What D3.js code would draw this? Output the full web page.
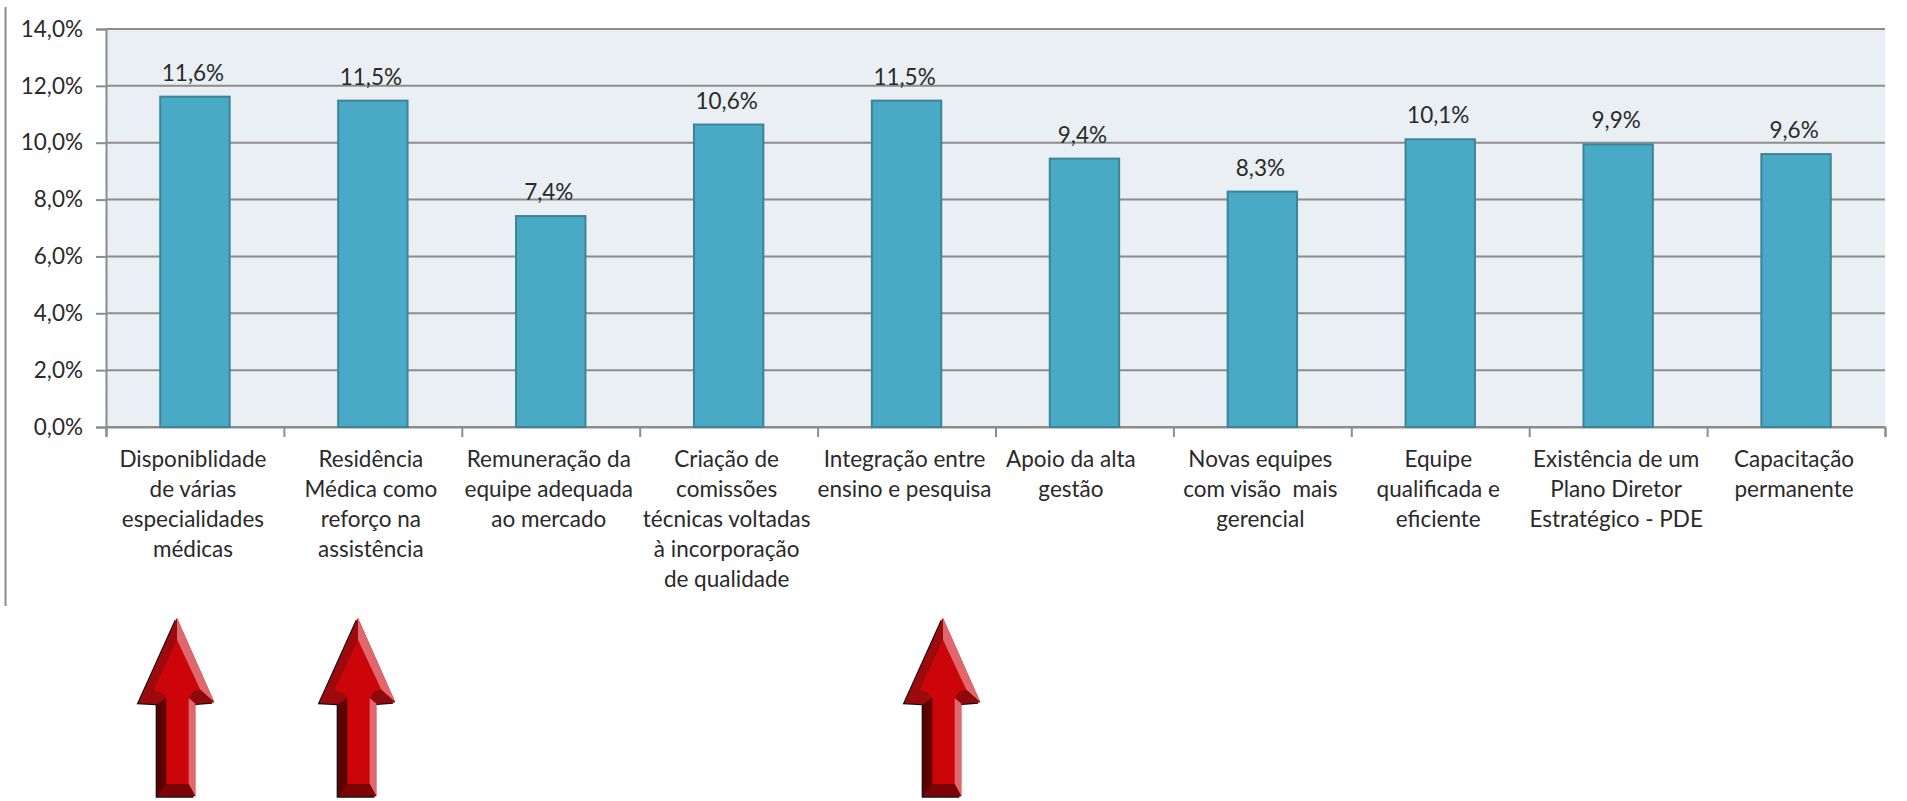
<!DOCTYPE html>
<html>
<head>
<meta charset="utf-8">
<script src="https://d3js.org/d3.v7.min.js"></script>
<style>
  html, body { margin: 0; padding: 0; background: #fff; }
  svg { display: block; }
  text { font-family: Lato, "Open Sans", sans-serif; fill: #2a2a2a; }
</style>
</head>
<body>
<div id="chart-area"></div>
<script>
// values
var categories = [
    ["Disponiblidade", "de várias", "especialidades", "médicas"],
    ["Residência", "Médica como", "reforço na", "assistência"],
    ["Remuneração da", "equipe adequada", "ao mercado"],
    ["Criação de", "comissões", "técnicas voltadas", "à incorporação", "de qualidade"],
    ["Integração entre", "ensino e pesquisa"],
    ["Apoio da alta\u00a0\u00a0\u00a0\u00a0", "gestão\u00a0\u00a0\u00a0\u00a0"],
    ["Novas equipes", "com visão\u00a0 mais", "gerencial"],
    ["Equipe", "qualificada e", "eficiente"],
    ["Existência de um", "Plano Diretor", "Estratégico - PDE"],
    ["Capacitação", "permanente"]
];
var values = [11.62, 11.48, 7.42, 10.64, 11.48, 9.44, 8.28, 10.12, 9.94, 9.6];
var yTicks = [0, 2, 4, 6, 8, 10, 12, 14];

// the three highlighted categories: arrow tip position in the page
var arrowTips = [[177, 618], [358, 618], [943, 618]];

var pct = function(d) { return d.toFixed(1).replace(".", ",") + "%"; };

var width = 1907, height = 801;
var margin = { left: 106, right: 22, top: 29, bottom: 374 };
var plotW = width - margin.left - margin.right,
    plotH = height - margin.top - margin.bottom;
var fontSize = 22.5;
var labelShift = -2; // labels sit a little left of the bar centres

var svg = d3.select("#chart-area")
    .append("svg")
        .attr("width", width)
        .attr("height", height);

// stray frame line left of the chart
svg.append("line")
    .attr("x1", 5.5).attr("x2", 5.5)
    .attr("y1", 7).attr("y2", 606)
    .attr("stroke", "#8c8c8c").attr("stroke-width", 2);

var g = svg.append("g")
    .attr("transform", "translate(" + margin.left + ", " + margin.top + ")");

var x = d3.scaleBand()
    .domain(d3.range(categories.length))
    .range([0, plotW])
    .paddingInner(0.61)
    .paddingOuter(0.305);

var xEdges = d3.scaleLinear().domain([0, categories.length]).range([0, plotW]);

var y = d3.scaleLinear().domain([0, 14]).range([plotH, 0]);

g.append("rect")
    .attr("width", plotW)
    .attr("height", plotH)
    .attr("fill", "#e9eff3");

// y axis and gridlines
var yAxis = d3.axisLeft(y)
    .tickValues(yTicks)
    .tickSize(10)
    .tickPadding(13)
    .tickFormat(pct);
var yG = g.append("g").call(yAxis);
yG.select(".domain").attr("stroke", "#8c8c8c").attr("stroke-width", 2);
yG.selectAll(".tick line").attr("stroke", "#8c8c8c").attr("stroke-width", 2);
yG.selectAll(".tick text").attr("font-size", fontSize);

g.append("g").selectAll("line")
    .data(yTicks)
    .enter().append("line")
        .attr("x1", 0)
        .attr("x2", plotW)
        .attr("y1", function(d) { return y(d); })
        .attr("y2", function(d) { return y(d); })
        .attr("stroke", "#8c8c8c")
        .attr("stroke-width", 2);

// x axis, ticks sit between the categories
var xAxis = d3.axisBottom(xEdges)
    .tickValues(d3.range(categories.length + 1))
    .tickSize(10)
    .tickFormat("");
var xG = g.append("g")
    .attr("transform", "translate(0," + plotH + ")")
    .call(xAxis);
xG.select(".domain").attr("stroke", "#8c8c8c").attr("stroke-width", 2);
xG.selectAll(".tick line").attr("stroke", "#8c8c8c").attr("stroke-width", 2);

// bars
g.selectAll("rect.bar")
    .data(values)
    .enter().append("rect")
        .attr("class", "bar")
        .attr("x", function(d, i) { return x(i); })
        .attr("y", function(d) { return y(d); })
        .attr("width", x.bandwidth())
        .attr("height", function(d) { return plotH - y(d); })
        .attr("fill", "#4aaac5")
        .attr("stroke", "#3b8499")
        .attr("stroke-width", 2);

// value labels
g.selectAll("text.value")
    .data(values)
    .enter().append("text")
        .attr("class", "value")
        .attr("x", function(d, i) { return x(i) + x.bandwidth() / 2 + labelShift; })
        .attr("y", function(d) { return y(d) - 16; })
        .attr("text-anchor", "middle")
        .attr("font-size", fontSize)
        .text(pct);

// category labels
var labels = g.selectAll("text.cat")
    .data(categories)
    .enter().append("text")
        .attr("class", "cat")
        .attr("text-anchor", "middle")
        .attr("font-size", fontSize)
        .attr("transform", function(d, i) {
            return "translate(" + (x(i) + x.bandwidth() / 2 + labelShift) + "," + (plotH + 40) + ")";
        });
labels.selectAll("tspan")
    .data(function(d) { return d; })
    .enter().append("tspan")
        .attr("x", 0)
        .attr("y", function(d, i) { return i * 30; })
        .text(function(d) { return d; });

// bevelled red arrows, points in thirds of a pixel relative to the tip
var arrowFaces = [
    { fill: "#111111", pts: [[-6, 4], [106, 257], [49, 262], [49, 539], [-64, 539], [-64, 262], [-121, 259]] },
    { fill: "#cc0508", pts: [[0, 0], [112, 253], [55, 257], [55, 535], [-58, 535], [-58, 257], [-115, 255]] },
    { fill: "#e0686c", pts: [[0, 0], [112, 253], [70, 215], [0, 65]] },
    { fill: "#8f090c", pts: [[112, 253], [55, 257], [35, 240], [50, 220], [70, 215]] },
    { fill: "#9c0a0e", pts: [[0, 0], [0, 65], [-70, 215], [-45, 225], [-32, 240], [-58, 257], [-115, 255]] },
    { fill: "#5c0000", pts: [[-32, 240], [-58, 257], [-58, 535], [-32, 498]] },
    { fill: "#e0686c", pts: [[35, 240], [55, 257], [55, 535], [35, 498]] },
    { fill: "#7a0406", pts: [[-58, 535], [-32, 498], [35, 498], [55, 535]] }
];
var arrows = svg.selectAll("g.arrow")
    .data(arrowTips)
    .enter().append("g")
        .attr("class", "arrow")
        .attr("transform", function(d) {
            return "translate(" + d[0] + "," + d[1] + ") scale(0.3333)";
        });
arrows.selectAll("polygon")
    .data(arrowFaces)
    .enter().append("polygon")
        .attr("points", function(d) { return d.pts.join(" "); })
        .attr("fill", function(d) { return d.fill; });
</script>
</body>
</html>
